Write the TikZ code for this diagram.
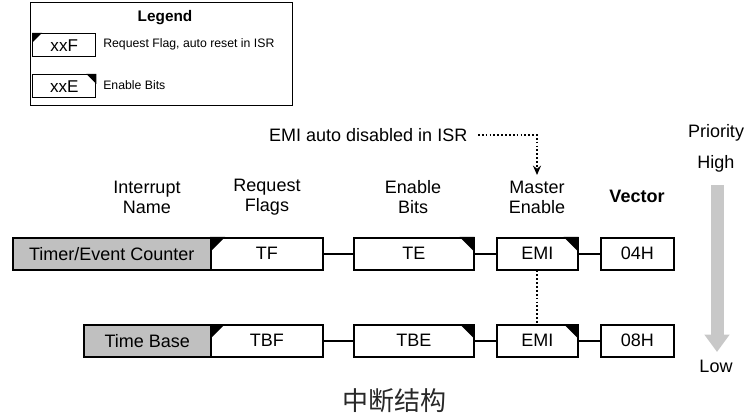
\documentclass[tikz,border=0pt]{standalone}
\usepackage{fontspec}
\setmainfont{Liberation Sans}
\newfontfamily\cjkfont{Noto Sans CJK SC}
\usetikzlibrary{arrows.meta,calc}

\definecolor{namegray}{RGB}{192,192,192}
\definecolor{arrowgray}{RGB}{200,200,200}
\definecolor{titlegray}{RGB}{40,40,40}

\tikzset{
  box/.style={draw, line width=1.2pt, minimum height=32*0.75pt, inner sep=0pt, anchor=north west, font=\fontsize{13.5}{16}\selectfont},
  namebox/.style={box, fill=namegray},
  smallbox/.style={draw, line width=1.1pt, minimum height=23*0.75pt, minimum width=63*0.75pt, inner sep=0pt, anchor=north west, font=\fontsize{12.8}{14}\selectfont},
  link/.style={line width=1.2pt},
  dots/.style={line width=1.3pt, dash pattern=on 1.3pt off 1.6pt},
  label/.style={font=\fontsize{13.5}{15}\selectfont, align=center},
  legtext/.style={font=\fontsize{9.2}{11}\selectfont, anchor=west, inner sep=0pt},
}

% black corner of a request flag (top left) or an enable bit (top right)
\newcommand{\flagcorner}[2][15]{%
  \fill[shift={(#2.north west)}] (0,0) -- (#1,0) -- (0,#1) -- cycle;}
\newcommand{\enablecorner}[2][15]{%
  \fill[shift={(#2.north east)}] (0,0) -- (-#1,0) -- (0,#1) -- cycle;}

\begin{document}
\begin{tikzpicture}[x=0.75pt, y=-0.75pt]
\useasboundingbox (0,0) rectangle (750,417);

% legend
\node[draw, line width=1.1pt, anchor=north west, minimum width=262*0.75pt, minimum height=103*0.75pt] (legend) at (30,2) {};
\node[font=\fontsize{11.5}{13}\selectfont\bfseries] (legtitle) at (165,18) {Legend};
\node[smallbox] (xxf) at (32,33) {xxF};
\flagcorner[10]{xxf}
\node[legtext] (xxftext) at (103,44) {Request Flag, auto reset in ISR};
\node[smallbox] (xxe) at (32,74) {xxE};
\enablecorner[10]{xxe}
\node[legtext] (xxetext) at (103,85) {Enable Bits};

% column headings
\node[label] (hname) at (147,197) {Interrupt\\Name};
\node[label] (hflag) at (267,197) {Request\\Flags};
\node[label] (hen)   at (413,197) {Enable\\Bits};
\node[label] (hemi)  at (537,197) {Master\\Enable};
\node[label, font=\fontsize{13.5}{15}\selectfont\bfseries] (hvec) at (637,196) {Vector};

% note on the master enable
\node[label, anchor=east] (note) at (472,135) {EMI auto disabled in ISR};
\coordinate (noteend) at (537,175);
\draw[dots, -{Stealth[length=7pt,width=6pt]}] ($(note.east)+(6,0)$) -| (noteend);

% first interrupt source
\node[namebox, minimum width=198*0.75pt] (n1) at (12,237) {Timer/Event Counter};
\node[box, minimum width=112*0.75pt] (tf) at (210,237) {TF};
\flagcorner{tf}
\node[box, minimum width=120*0.75pt] (te) at (353,237) {TE};
\enablecorner{te}
\node[box, minimum width=81*0.75pt] (emi1) at (496,237) {EMI};
\enablecorner{emi1}
\node[box, minimum width=73*0.75pt] (v1) at (600,237) {04H};
\draw[link] (tf) -- (te);
\draw[link] (te) -- (emi1);
\draw[link] (emi1) -- (v1);

% second interrupt source
\node[namebox, minimum width=127*0.75pt] (n2) at (83,324) {Time Base};
\node[box, minimum width=112*0.75pt] (tbf) at (210,324) {TBF};
\flagcorner{tbf}
\node[box, minimum width=120*0.75pt] (tbe) at (353,324) {TBE};
\enablecorner{tbe}
\node[box, minimum width=81*0.75pt] (emi2) at (496,324) {EMI};
\enablecorner{emi2}
\node[box, minimum width=73*0.75pt] (v2) at (600,324) {08H};
\draw[link] (tbf) -- (tbe);
\draw[link] (tbe) -- (emi2);
\draw[link] (emi2) -- (v2);

% both sources share one master enable
\draw[dots] (emi1) -- (emi2);

% priority scale
\node[label] (prio) at (716,133) {Priority};
\node[label] (high) at (716,164) {High};
\node[label] (low)  at (716,366) {Low};
\draw[arrowgray, line width=13*0.75pt, -{Triangle[length=13pt,width=18pt]}] ($(high.south)+(1,8)$) -- ($(low.north)+(1,-3)$);

% caption
\node[font=\cjkfont\fontsize{19.5}{22}\selectfont, text=titlegray] (caption) at (394,401) {中断结构};
\end{tikzpicture}
\end{document}
